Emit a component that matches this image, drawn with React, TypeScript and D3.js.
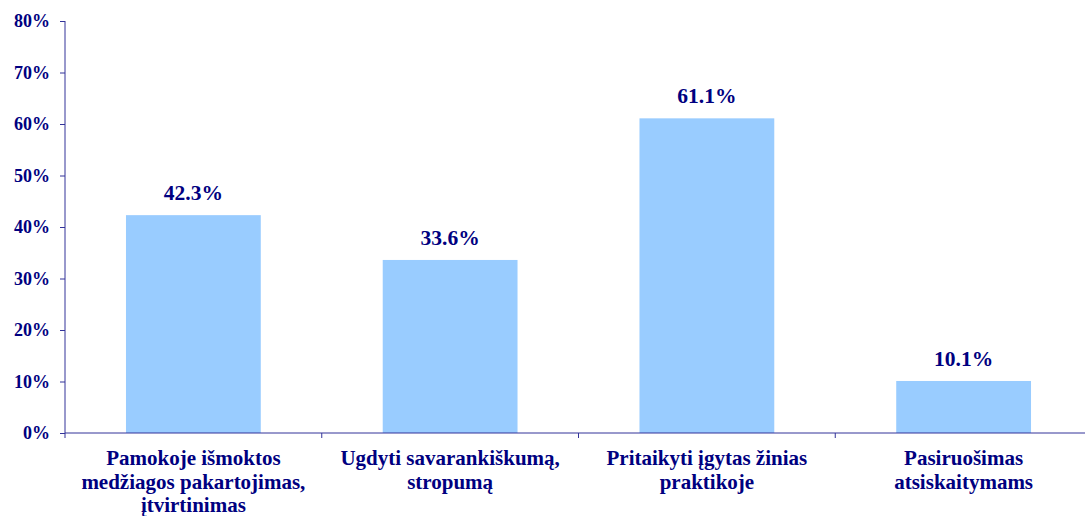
import { useEffect, useRef } from 'react';
import { select, scaleBand, scaleLinear, axisLeft } from 'd3';

const categories = [
  ['Pamokoje išmoktos', 'medžiagos pakartojimas,', 'įtvirtinimas'],
  ['Ugdyti savarankiškumą,', 'stropumą'],
  ['Pritaikyti įgytas žinias', 'praktikoje'],
  ['Pasiruošimas', 'atsiskaitymams'],
];
const values = [42.3, 33.6, 61.1, 10.1];
const yTicks = [0, 10, 20, 30, 40, 50, 60, 70, 80];

const width = 1085;
const height = 516;

const App = () => {
  const svgRef = useRef<SVGSVGElement>(null);

  useEffect(() => {
    const margin = { top: 21, left: 65 };
    const plotWidth = 1027;
    const plotHeight = 412;
    const navy = '#000080';
    const axisColor = '#333399';
    const font = '"Liberation Serif", "Times New Roman", serif';

    select(svgRef.current).selectAll('*').remove();

    const svg = select(svgRef.current)
      .append('g')
      .attr('transform', `translate(${margin.left},${margin.top})`);

    const xScale = scaleBand<number>()
      .domain(values.map((_, i) => i))
      .range([0, plotWidth])
      .paddingInner(0.475)
      .paddingOuter(0.2375);

    const yScale = scaleLinear().domain([0, 80]).range([plotHeight, 0]);

    // bars
    svg.selectAll('.bar')
      .data(values)
      .enter().append('rect')
      .attr('class', 'bar')
      .attr('x', (_, i) => xScale(i)!)
      .attr('y', d => yScale(d))
      .attr('width', xScale.bandwidth())
      .attr('height', d => plotHeight - yScale(d))
      .attr('fill', '#99CCFF');

    // value labels
    svg.selectAll('.val')
      .data(values)
      .enter().append('text')
      .attr('class', 'val')
      .attr('x', (_, i) => xScale(i)! + xScale.bandwidth() / 2)
      .attr('y', d => yScale(d) - 15)
      .attr('text-anchor', 'middle')
      .attr('fill', navy)
      .attr('font-family', font)
      .attr('font-weight', 'bold')
      .attr('font-size', 21.5)
      .text(d => `${d.toFixed(1)}%`);

    // y axis
    const yAxis = svg.append('g')
      .call(axisLeft(yScale).tickValues(yTicks).tickSize(5).tickSizeOuter(0).tickPadding(10).tickFormat(d => `${d}%`));
    yAxis.select('.domain').attr('stroke', axisColor).attr('d', `M0,0V${plotHeight + 5}`);
    yAxis.selectAll('line').attr('stroke', axisColor);
    yAxis.attr('font-family', font).attr('font-size', 18).attr('font-weight', 'bold');
    yAxis.selectAll('text').attr('fill', navy);

    // x axis with boundary ticks
    const xAxis = svg.append('g').attr('transform', `translate(0,${plotHeight})`);
    xAxis.append('line')
      .attr('x1', 0).attr('x2', plotWidth)
      .attr('stroke', axisColor);
    const step = xScale.step();
    xAxis.selectAll('.xtick')
      .data(values.map((_, i) => i + 1))
      .enter().append('line')
      .attr('class', 'xtick')
      .attr('x1', i => i * step).attr('x2', i => i * step)
      .attr('y1', 0).attr('y2', 5)
      .attr('stroke', axisColor);

    const labels = xAxis.selectAll('.cat')
      .data(categories)
      .enter().append('text')
      .attr('class', 'cat')
      .attr('x', (_, i) => xScale(i)! + xScale.bandwidth() / 2)
      .attr('y', 32)
      .attr('text-anchor', 'middle')
      .attr('fill', navy)
      .attr('font-family', font)
      .attr('font-weight', 'bold')
      .attr('font-size', 21);
    labels.selectAll('tspan')
      .data(d => d)
      .enter().append('tspan')
      .attr('x', function () { return (this.parentNode as SVGTextElement).getAttribute('x'); })
      .attr('dy', (_, j) => (j === 0 ? 0 : 23.5))
      .text(d => d);
  }, []);

  return (
    <svg
      ref={svgRef}
      width={width}
      height={height}
      style={{ position: 'absolute', left: 0, top: 0, background: '#fff' }}
    />
  );
};

export default App;
